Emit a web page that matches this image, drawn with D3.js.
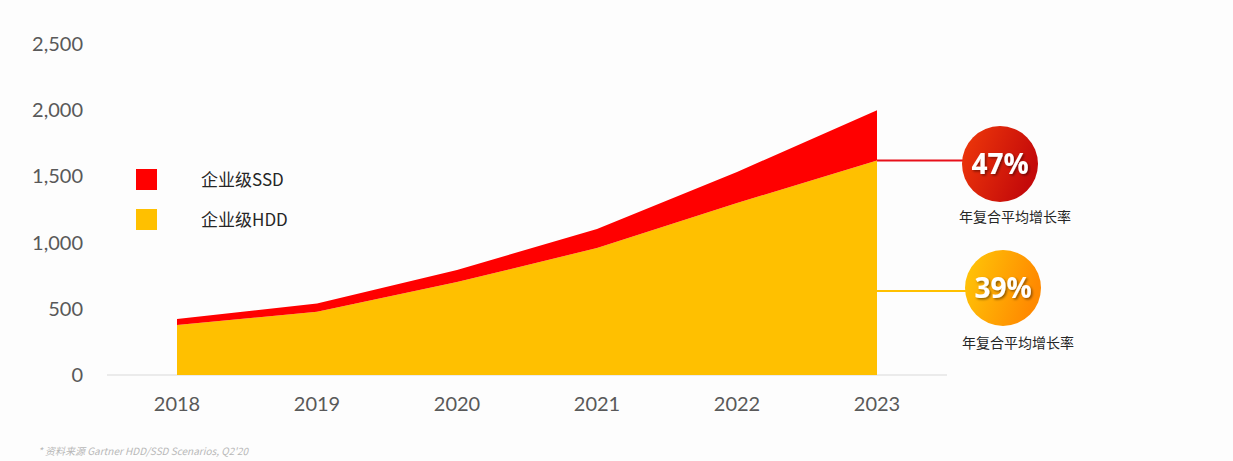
<!DOCTYPE html>
<html><head><meta charset="utf-8">
<script src="https://cdn.jsdelivr.net/npm/d3@7"></script>
<style>
html,body{margin:0;padding:0;background:#fdfdfd;}
svg{display:block;}
</style></head>
<body>
<svg id="chart" width="1233" height="461"></svg>
<script>
const years = ["2018","2019","2020","2021","2022","2023"];
const hddValues = [378, 478, 702, 959, 1299, 1620];
const ssdValues = [45, 62, 91, 144, 234, 380];
const yTicks = [0, 500, 1000, 1500, 2000, 2500];
const seriesNames = ["企业级SSD", "企业级HDD"];
const cagrLabels = ["47%", "39%"];
const cagrCaption = "年复合平均增长率";
const footnote = "* 资料来源 Gartner HDD/SSD Scenarios, Q2'20";

const svg = d3.select("#chart");
const font = "Lato, 'Open Sans', 'Noto Sans CJK SC', sans-serif";
const cjk = "'Noto Sans CJK SC', 'Noto Sans', sans-serif";

const x = d3.scaleBand().domain(years).range([107, 947]).padding(0);
const cx = d => x(d) + x.bandwidth() / 2;
const y = d3.scaleLinear().domain([0, 2500]).range([375, 44]);

const data = years.map((yr, i) => ({year: yr, hdd: hddValues[i], ssd: ssdValues[i]}));
const stack = d3.stack().keys(["hdd", "ssd"]);
const layers = stack(data);
const colors = {hdd: "#ffc000", ssd: "#ff0000"};

const area = d3.area()
  .x(d => cx(d.data.year))
  .y0(d => y(d[0]))
  .y1(d => y(d[1]));

// axis baseline
svg.append("line").attr("x1", 107).attr("x2", 947).attr("y1", y(0)).attr("y2", y(0))
  .attr("stroke", "#d9d9d9").attr("stroke-width", 1);

svg.append("g").selectAll("path").data(layers).join("path")
  .attr("d", area).attr("fill", d => colors[d.key]);

// y axis labels
const yAxis = d3.axisLeft(y).tickValues(yTicks).tickSize(0).tickPadding(0)
  .tickFormat(d3.format(","));
const gy = svg.append("g").attr("transform", "translate(83,0)").call(yAxis);
gy.select(".domain").remove();
gy.selectAll("text").attr("font-family", font).attr("font-size", 20).attr("fill", "#595959");

// x axis labels
const xAxis = d3.axisBottom(x).tickSize(0).tickPadding(0);
const gx = svg.append("g").attr("transform", "translate(0,397)").call(xAxis);
gx.select(".domain").remove();
gx.selectAll("text").attr("font-family", font).attr("font-size", 20).attr("fill", "#595959");

// legend
const legend = svg.append("g");
seriesNames.forEach((name, i) => {
  const yy = 169 + i * 40;
  legend.append("rect").attr("x", 136).attr("y", yy).attr("width", 21).attr("height", 21)
    .attr("fill", i === 0 ? colors.ssd : colors.hdd);
  legend.append("text").attr("x", 201).attr("y", yy + 17).text(name)
    .attr("font-family", cjk).attr("font-size", 17).attr("fill", "#262626");
});

// gradients & shadow
const defs = svg.append("defs");
const g1 = defs.append("linearGradient").attr("id", "gRed").attr("x1", "0").attr("y1", "0").attr("x2", "1").attr("y2", "0.4");
g1.append("stop").attr("offset", "0%").attr("stop-color", "#f03a0a");
g1.append("stop").attr("offset", "100%").attr("stop-color", "#c40a0a");
const g2 = defs.append("linearGradient").attr("id", "gYel").attr("x1", "0").attr("y1", "0").attr("x2", "1").attr("y2", "0.3");
g2.append("stop").attr("offset", "0%").attr("stop-color", "#ffc808");
g2.append("stop").attr("offset", "100%").attr("stop-color", "#ff8a00");
const f = defs.append("filter").attr("id", "ts").attr("x", "-20%").attr("y", "-20%").attr("width", "140%").attr("height", "140%");
f.append("feDropShadow").attr("dx", 1.5).attr("dy", 1.5).attr("stdDeviation", 1).attr("flood-color", "#000").attr("flood-opacity", 0.45);

// connectors & badges
const last = data[data.length - 1];
const badges = [
  {lineY: y(last.hdd), color: "#e8101a", cxp: 1000, cyp: 164, grad: "url(#gRed)", label: cagrLabels[0], capY: 222},
  {lineY: 291, color: "#ffc000", cxp: 1003, cyp: 288, grad: "url(#gYel)", label: cagrLabels[1], capY: 348}
];
badges.forEach(b => {
  svg.append("line").attr("x1", cx(last.year)).attr("x2", b.cxp - 36).attr("y1", b.lineY).attr("y2", b.lineY)
    .attr("stroke", b.color).attr("stroke-width", 2);
  svg.append("circle").attr("cx", b.cxp).attr("cy", b.cyp).attr("r", 38).attr("fill", b.grad);
  svg.append("text").attr("x", b.cxp).attr("y", b.cyp + 10).attr("text-anchor", "middle")
    .attr("font-family", "'Open Sans', Lato, sans-serif").attr("font-weight", 700).attr("font-size", 28)
    .attr("fill", "#fff").attr("filter", "url(#ts)").text(b.label);
  svg.append("text").attr("x", b.cxp + 15).attr("y", b.capY).attr("text-anchor", "middle")
    .attr("font-family", cjk).attr("font-size", 14).attr("fill", "#262626").text(cagrCaption);
});

// footnote
svg.append("text").attr("x", 38).attr("y", 455).text(footnote)
  .attr("font-family", cjk).attr("font-style", "italic").attr("font-size", 10).attr("fill", "#b8b8b8");
</script>
</body></html>
